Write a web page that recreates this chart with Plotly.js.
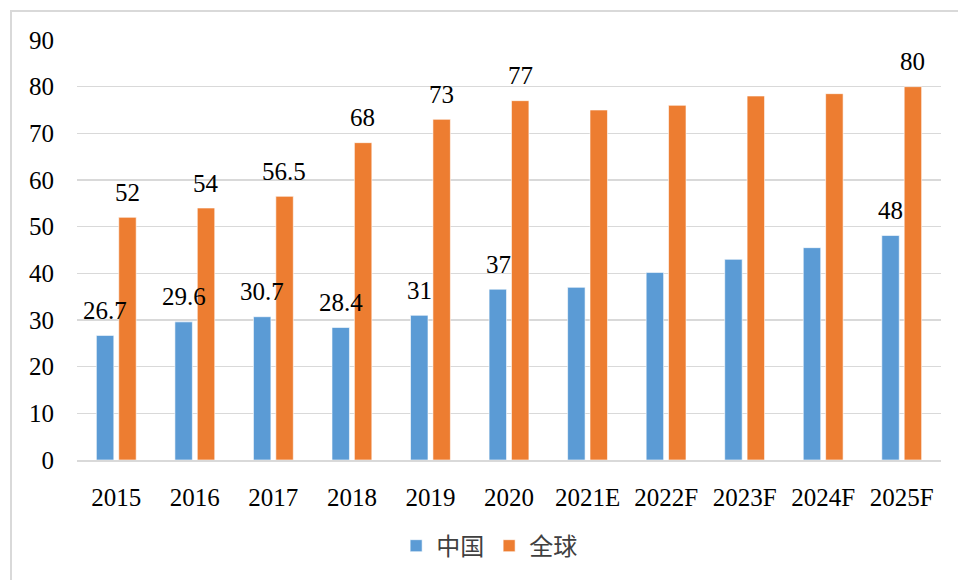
<!DOCTYPE html>
<html>
<head>
<meta charset="utf-8">
<script src="https://cdn.plot.ly/plotly-3.0.1.min.js"></script>
<style>
  html, body { margin: 0; padding: 0; background: #fff; }
  #wrap { position: relative; width: 958px; height: 580px; overflow: hidden; }
  #chart { position: absolute; left: 0; top: 0; width: 958px; height: 580px; }
  #frame { position: absolute; left: 10px; top: 10px; width: 960px; height: 590px;
           border: 2px solid #D9D9D9; box-sizing: border-box; pointer-events: none; }
</style>
</head>
<body>
<div id="wrap">
  <div id="chart"></div>
  <div id="frame"></div>
</div>
<script>
const categories = ["2015","2016","2017","2018","2019","2020","2021E","2022F","2023F","2024F","2025F"];
const chinaValues = [26.7, 29.6, 30.7, 28.4, 31, 36.6, 37.0, 40.2, 43.0, 45.5, 48.1];
const globalValues = [52, 54, 56.5, 68, 73, 77, 75, 76, 78, 78.5, 80];
const chinaLabels = ["26.7","29.6","30.7","28.4","31","37","","","","","48"];
const globalLabels = ["52","54","56.5","68","73","77","","","","","80"];
const seriesNames = ["中国","全球"];
const yTicks = [0,10,20,30,40,50,60,70,80,90];

const serif = "Liberation Serif";
const cjk = "Liberation Serif, Noto Sans CJK SC";

const traces = [
  { type: "bar", name: seriesNames[0], x: categories, y: chinaValues,
    marker: { color: "#5B9BD5", line: { color: "#ffffff", width: 0.6 } }, hoverinfo: "x+y" },
  { type: "bar", name: seriesNames[1], x: categories, y: globalValues,
    marker: { color: "#ED7D31", line: { color: "#ffffff", width: 0.6 } }, hoverinfo: "x+y" }
];

const annotations = [];
categories.forEach((c, i) => {
  if (chinaLabels[i]) annotations.push({ x: i, y: chinaValues[i], text: chinaLabels[i], showarrow: false,
    xshift: -11, yshift: 25, yanchor: "middle", font: { family: serif, size: 25, color: "#000" } });
  if (globalLabels[i]) annotations.push({ x: i, y: globalValues[i], text: globalLabels[i], showarrow: false,
    xshift: 11, yshift: 25, yanchor: "middle", font: { family: serif, size: 25, color: "#000" } });
});

const layout = {
  width: 958, height: 580,
  margin: { l: 77, r: 17, t: 40, b: 118 },
  paper_bgcolor: "rgba(0,0,0,0)", plot_bgcolor: "#fff",
  font: { family: serif },
  barmode: "group", bargap: 0.43, bargroupgap: 0.22,
  showlegend: true,
  legend: { orientation: "h", x: 0.477, xanchor: "center", y: -0.205, yanchor: "middle",
            font: { family: cjk, size: 24, color: "#404040" }, itemwidth: 30, traceorder: "normal" },
  xaxis: { type: "category", categoryorder: "array", categoryarray: categories,
           range: [-0.5, categories.length - 0.5],
           tickfont: { family: serif, size: 25, color: "#000" },
           showgrid: false, showline: true, linecolor: "#D9D9D9", linewidth: 2,
           ticks: "", ticklabelstandoff: 14, fixedrange: true },
  yaxis: { range: [0, 90], tickvals: yTicks, ticktext: yTicks.map(String),
           tickfont: { family: serif, size: 25, color: "#000" },
           showgrid: true, gridcolor: "#D9D9D9", gridwidth: 1.5,
           zeroline: false, showline: false, ticks: "", ticklabelstandoff: 22, fixedrange: true },
  annotations: annotations
};

Plotly.newPlot("chart", traces, layout, { displayModeBar: false, staticPlot: true });
</script>
</body>
</html>
